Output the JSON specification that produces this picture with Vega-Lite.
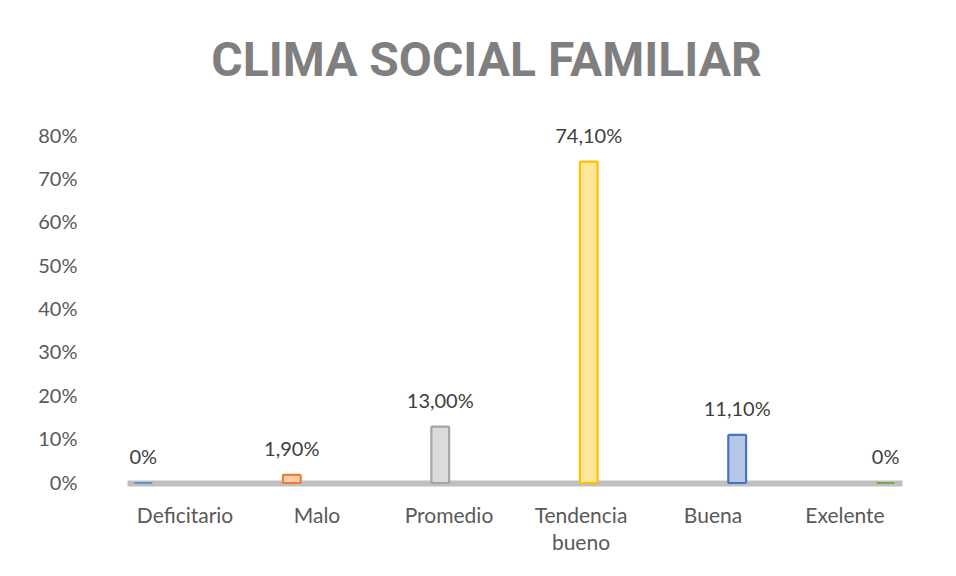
{
  "$schema": "https://vega.github.io/schema/vega-lite/v6.json",
  "width": 775,
  "height": 347,
  "autosize": {"type": "none"},
  "padding": {"left": 127, "top": 136, "right": 54, "bottom": 93},
  "background": "white",
  "title": {
    "text": "CLIMA SOCIAL FAMILIAR",
    "font": "Roboto",
    "fontSize": 48,
    "fontWeight": "bold",
    "letterSpacing": 4,
    "color": "#7F7F7F",
    "anchor": "middle",
    "baseline": "alphabetic",
    "offset": 2,
    "dx": -28
  },
  "config": {
    "view": {"stroke": null},
    "font": "Lato"
  },
  "data": {
    "values": [
      {"cat": "Deficitario", "value": 0.0, "label": "0%"},
      {"cat": "Malo", "value": 0.019, "label": "1,90%"},
      {"cat": "Promedio", "value": 0.13, "label": "13,00%"},
      {"cat": "Tendencia bueno", "value": 0.741, "label": "74,10%"},
      {"cat": "Buena", "value": 0.111, "label": "11,10%"},
      {"cat": "Exelente", "value": 0.0, "label": "0%"}
    ]
  },
  "layer": [
    {
      "encoding": {
        "x": {
          "field": "cat", "type": "nominal", "sort": null,
          "scale": {"type": "band", "paddingInner": 0.88, "paddingOuter": 0.05},
          "axis": {"labels": false, "ticks": false, "title": null, "domain": true, "domainColor": "#BFBFBF", "domainWidth": 6}
        },
        "y": {
          "field": "value", "type": "quantitative",
          "scale": {"domain": [0, 0.8]},
          "axis": {
            "values": [0, 0.1, 0.2, 0.3, 0.4, 0.5, 0.6, 0.7, 0.8],
            "format": ".0%", "grid": false, "domain": false, "ticks": false,
            "labelPadding": 50, "labelFontSize": 20, "labelColor": "#595959",
            "labelFont": "Lato", "title": null
          }
        }
      },
      "layer": [
        {
          "mark": {"type": "bar", "size": 18, "strokeWidth": 2, "cornerRadius": 1},
          "encoding": {
            "fill": {
              "field": "cat", "type": "nominal", "sort": null, "legend": null,
              "scale": {
                "domain": ["Deficitario", "Malo", "Promedio", "Tendencia bueno", "Buena", "Exelente"],
                "range": ["#BDD7EE", "#F8CBAD", "#DBDBDB", "#FFE699", "#B4C7E7", "#C5E0B4"]
              }
            },
            "stroke": {
              "field": "cat", "type": "nominal", "sort": null, "legend": null,
              "scale": {
                "domain": ["Deficitario", "Malo", "Promedio", "Tendencia bueno", "Buena", "Exelente"],
                "range": ["#5B9BD5", "#ED7D31", "#A5A5A5", "#FFC000", "#4472C4", "#70AD47"]
              }
            }
          }
        },
        {
          "mark": {"type": "text", "baseline": "bottom", "dy": -15, "fontSize": 20, "color": "#404040", "font": "Lato"},
          "encoding": {
            "text": {"field": "label"}
          }
        }
      ]
    },
    {
      "mark": {"type": "text"},
      "encoding": {
        "x": {
          "field": "cat", "type": "nominal", "sort": null,
          "scale": {"type": "point", "padding": 0.436},
          "axis": {
            "orient": "bottom", "domain": false, "ticks": false, "title": null,
            "labelPadding": 22, "labelFontSize": 21, "labelColor": "#595959",
            "labelFont": "Lato", "labelAngle": 0, "labelBaseline": "top", "labelLineHeight": 27,
            "labelExpr": "datum.value == 'Tendencia bueno' ? ['Tendencia', 'bueno'] : datum.label"
          }
        },
        "text": {"value": ""}
      }
    }
  ],
  "resolve": {"scale": {"x": "independent"}, "axis": {"x": "independent"}}
}
